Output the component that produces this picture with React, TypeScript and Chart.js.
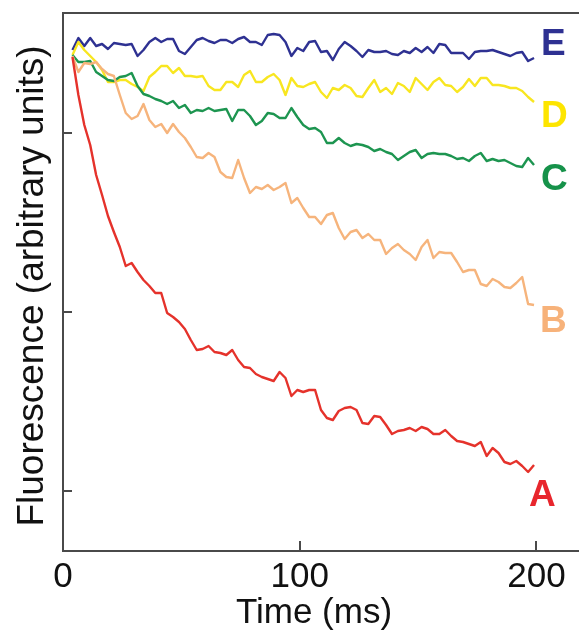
import React, { useEffect, useRef } from "react";
import { Chart, registerables } from "chart.js";

Chart.register(...registerables);

// Time axis (ms)
const timeMs = [
  4, 6.5, 9, 11.5, 14, 16.5, 19, 21.5, 24, 26.5,
  29, 31.5, 34, 36.5, 39, 41.5, 44, 46.5, 49, 51.5,
  54, 56.5, 59, 61.5, 64, 66.5, 69, 71.5, 74, 76.5,
  79, 81.5, 84, 86.5, 89, 91.5, 94, 96.5, 99, 101.5,
  104, 106.5, 109, 111.5, 114, 116.5, 119, 121.5, 124, 126.5,
  129, 131.5, 134, 136.5, 139, 141.5, 144, 146.5, 149, 151.5,
  154, 156.5, 159, 161.5, 164, 166.5, 169, 171.5, 174, 176.5,
  179, 181.5, 184, 186.5, 189, 191.5, 194, 196.5, 199,
];

// Fluorescence traces (arbitrary units)
const traceA = [
  4.94, 4.56, 4.26, 4.06, 3.76, 3.56, 3.35, 3.19, 3.04, 2.85,
  2.88, 2.79, 2.71, 2.65, 2.58, 2.58, 2.38, 2.34, 2.29, 2.22,
  2.11, 2.01, 2.02, 2.05, 1.99, 1.98, 1.96, 2.01, 1.91, 1.84,
  1.83, 1.77, 1.74, 1.72, 1.70, 1.79, 1.73, 1.55, 1.61, 1.59,
  1.61, 1.61, 1.41, 1.33, 1.31, 1.40, 1.43, 1.44, 1.41, 1.28,
  1.27, 1.35, 1.34, 1.26, 1.17, 1.20, 1.21, 1.23, 1.20, 1.24,
  1.22, 1.17, 1.17, 1.21, 1.15, 1.10, 1.09, 1.07, 1.05, 1.09,
  0.95, 1.03, 0.98, 0.89, 0.87, 0.90, 0.85, 0.79, 0.86,
];
const traceB = [
  4.95, 4.79, 4.88, 4.87, 4.89, 4.82, 4.77, 4.75, 4.56, 4.38,
  4.32, 4.35, 4.47, 4.31, 4.24, 4.27, 4.18, 4.27, 4.19, 4.13,
  4.04, 3.94, 3.93, 3.98, 3.94, 3.79, 3.74, 3.73, 3.91, 3.73,
  3.58, 3.64, 3.62, 3.66, 3.61, 3.64, 3.68, 3.48, 3.53, 3.43,
  3.34, 3.34, 3.27, 3.36, 3.38, 3.23, 3.12, 3.19, 3.21, 3.13,
  3.17, 3.11, 3.11, 2.97, 3.03, 3.07, 3.01, 2.97, 2.91, 3.04,
  3.11, 2.93, 2.99, 2.98, 2.98, 2.89, 2.79, 2.81, 2.81, 2.67,
  2.65, 2.72, 2.69, 2.64, 2.63, 2.68, 2.74, 2.47, 2.46,
];
const traceC = [
  4.96, 4.89, 4.89, 4.90, 4.79, 4.75, 4.71, 4.70, 4.74, 4.75,
  4.78, 4.65, 4.57, 4.55, 4.52, 4.50, 4.47, 4.50, 4.43, 4.46,
  4.38, 4.41, 4.40, 4.43, 4.40, 4.41, 4.42, 4.30, 4.41, 4.41,
  4.35, 4.26, 4.30, 4.38, 4.37, 4.33, 4.33, 4.43, 4.34, 4.26,
  4.22, 4.23, 4.19, 4.08, 4.08, 4.13, 4.08, 4.05, 4.07, 4.06,
  4.04, 4.00, 4.02, 3.99, 3.97, 3.91, 3.95, 3.99, 4.01, 3.93,
  3.97, 3.98, 3.97, 3.97, 3.95, 3.92, 3.93, 3.90, 3.95, 3.98,
  3.90, 3.92, 3.90, 3.91, 3.88, 3.85, 3.84, 3.93, 3.86,
];
const traceD = [
  4.96, 5.09, 5.01, 4.95, 4.89, 4.81, 4.69, 4.69, 4.71, 4.71,
  4.67, 4.64, 4.60, 4.74, 4.79, 4.85, 4.85, 4.78, 4.83, 4.75,
  4.75, 4.74, 4.75, 4.65, 4.61, 4.61, 4.69, 4.69, 4.64, 4.76,
  4.80, 4.69, 4.69, 4.74, 4.77, 4.71, 4.56, 4.73, 4.65, 4.64,
  4.67, 4.69, 4.59, 4.53, 4.63, 4.61, 4.66, 4.63, 4.55, 4.54,
  4.63, 4.71, 4.59, 4.63, 4.57, 4.68, 4.65, 4.59, 4.73, 4.67,
  4.61, 4.69, 4.73, 4.66, 4.65, 4.59, 4.64, 4.72, 4.65, 4.73,
  4.73, 4.66, 4.66, 4.65, 4.63, 4.63, 4.60, 4.54, 4.49,
];
const traceE = [
  5.01, 5.13, 5.05, 5.13, 5.05, 5.07, 5.02, 5.08, 5.07, 5.06,
  5.07, 4.95, 5.01, 5.09, 5.13, 5.09, 5.12, 5.12, 5.00, 4.97,
  5.04, 5.11, 5.13, 5.10, 5.08, 5.11, 5.11, 5.08, 5.12, 5.14,
  5.09, 5.09, 5.06, 5.16, 5.17, 5.16, 5.09, 4.95, 5.03, 5.00,
  5.09, 5.10, 4.99, 5.00, 4.91, 5.02, 5.09, 5.05, 5.00, 4.94,
  5.01, 4.99, 4.99, 5.00, 4.97, 4.96, 5.00, 4.98, 5.03, 4.99,
  5.04, 4.98, 5.07, 5.06, 4.98, 4.98, 4.98, 4.92, 4.99, 5.00,
  5.00, 5.01, 4.99, 4.97, 4.95, 4.98, 4.99, 4.90, 4.93,
];

const seriesNames = ["A", "B", "C", "D", "E"];
const xTickValues = [0, 100, 200];
const yTickValues = [0.6, 2.39, 4.18];
const xTitle = "Time (ms)";
const yTitle = "Fluorescence (arbitrary units)";

// styling / placement (kept apart from the data)
const seriesColors = ["#e5322b", "#f6b47c", "#1d9550", "#f8e620", "#2e3192"];
const labelColors = ["#e8262d", "#f7b27a", "#16924a", "#fde500", "#2e3192"];
const labelAnchors: [number, number][] = [
  [202.5, 0.56],
  [207.2, 2.3],
  [207.6, 3.72],
  [207.6, 4.35],
  [207.2, 5.07],
];

const FONT = '"Liberation Sans", Arial, Helvetica, sans-serif';

const decorPlugin = {
  id: "decor",
  afterDraw(chart: any) {
    const { ctx, chartArea, scales } = chart;
    const xs = scales.x;
    const ys = scales.y;
    const { left, right, top, bottom } = chartArea;
    ctx.save();
    ctx.strokeStyle = "#4a4a4a";
    ctx.lineWidth = 2;
    ctx.lineCap = "butt";
    // frame: left, bottom, top
    ctx.beginPath();
    ctx.moveTo(left, top);
    ctx.lineTo(right + 2, top);
    ctx.moveTo(left, top - 1);
    ctx.lineTo(left, bottom + 1);
    ctx.moveTo(left - 1, bottom);
    ctx.lineTo(right + 2, bottom);
    ctx.stroke();
    // inward tick marks
    ctx.beginPath();
    yTickValues.forEach((v) => {
      const py = Math.round(ys.getPixelForValue(v));
      ctx.moveTo(left, py);
      ctx.lineTo(left + 9, py);
    });
    xTickValues.forEach((v) => {
      const px = Math.round(xs.getPixelForValue(v));
      ctx.moveTo(px, bottom);
      ctx.lineTo(px, bottom - 10);
    });
    ctx.stroke();

    // tick labels
    ctx.fillStyle = "#111";
    ctx.font = `35px ${FONT}`;
    ctx.textAlign = "center";
    ctx.textBaseline = "alphabetic";
    xTickValues.forEach((v) => {
      ctx.fillText(String(v), xs.getPixelForValue(v), bottom + 36);
    });
    // x title
    ctx.fillText(xTitle, left + 251, bottom + 72);

    // y title
    ctx.save();
    ctx.translate(left - 20, (top + bottom) / 2 + 4);
    ctx.rotate(-Math.PI / 2);
    ctx.font = `37px ${FONT}`;
    ctx.textAlign = "center";
    ctx.textBaseline = "alphabetic";
    ctx.fillText(yTitle, 0, 0);
    ctx.restore();

    // series letters
    ctx.font = `bold 37px ${FONT}`;
    ctx.textAlign = "center";
    ctx.textBaseline = "middle";
    seriesNames.forEach((name, i) => {
      const [tx, vy] = labelAnchors[i];
      ctx.fillStyle = labelColors[i];
      ctx.fillText(name, xs.getPixelForValue(tx), ys.getPixelForValue(vy) + 1);
    });
    ctx.restore();
  },
};

export default function App() {
  const canvasRef = useRef<HTMLCanvasElement | null>(null);

  useEffect(() => {
    const canvas = canvasRef.current;
    if (!canvas) return;
    const traces = [traceA, traceB, traceC, traceD, traceE];
    const chart = new Chart(canvas, {
      type: "line",
      data: {
        datasets: traces.map((tr, i) => ({
          label: seriesNames[i],
          data: timeMs.map((t, j) => ({ x: t, y: tr[j] })),
          borderColor: seriesColors[i],
          backgroundColor: seriesColors[i],
          borderWidth: 2.4,
          borderJoinStyle: "round",
          pointRadius: 0,
          tension: 0,
          fill: false,
        })),
      },
      options: {
        responsive: false,
        animation: false,
        devicePixelRatio: 1,
        layout: { padding: { left: 63, top: 13, right: 0, bottom: 81 } },
        plugins: {
          legend: { display: false },
          tooltip: { enabled: false },
          title: { display: false },
        },
        scales: {
          x: { type: "linear", min: 0, max: 218, display: false },
          y: { type: "linear", min: 0, max: 5.38, display: false },
        },
      },
      plugins: [decorPlugin],
    } as any);
    return () => chart.destroy();
  }, []);

  return (
    <div style={{ position: "absolute", left: 0, top: 0, width: 579, height: 632, background: "#fff" }}>
      <canvas ref={canvasRef} width={579} height={632} style={{ display: "block" }} />
    </div>
  );
}
